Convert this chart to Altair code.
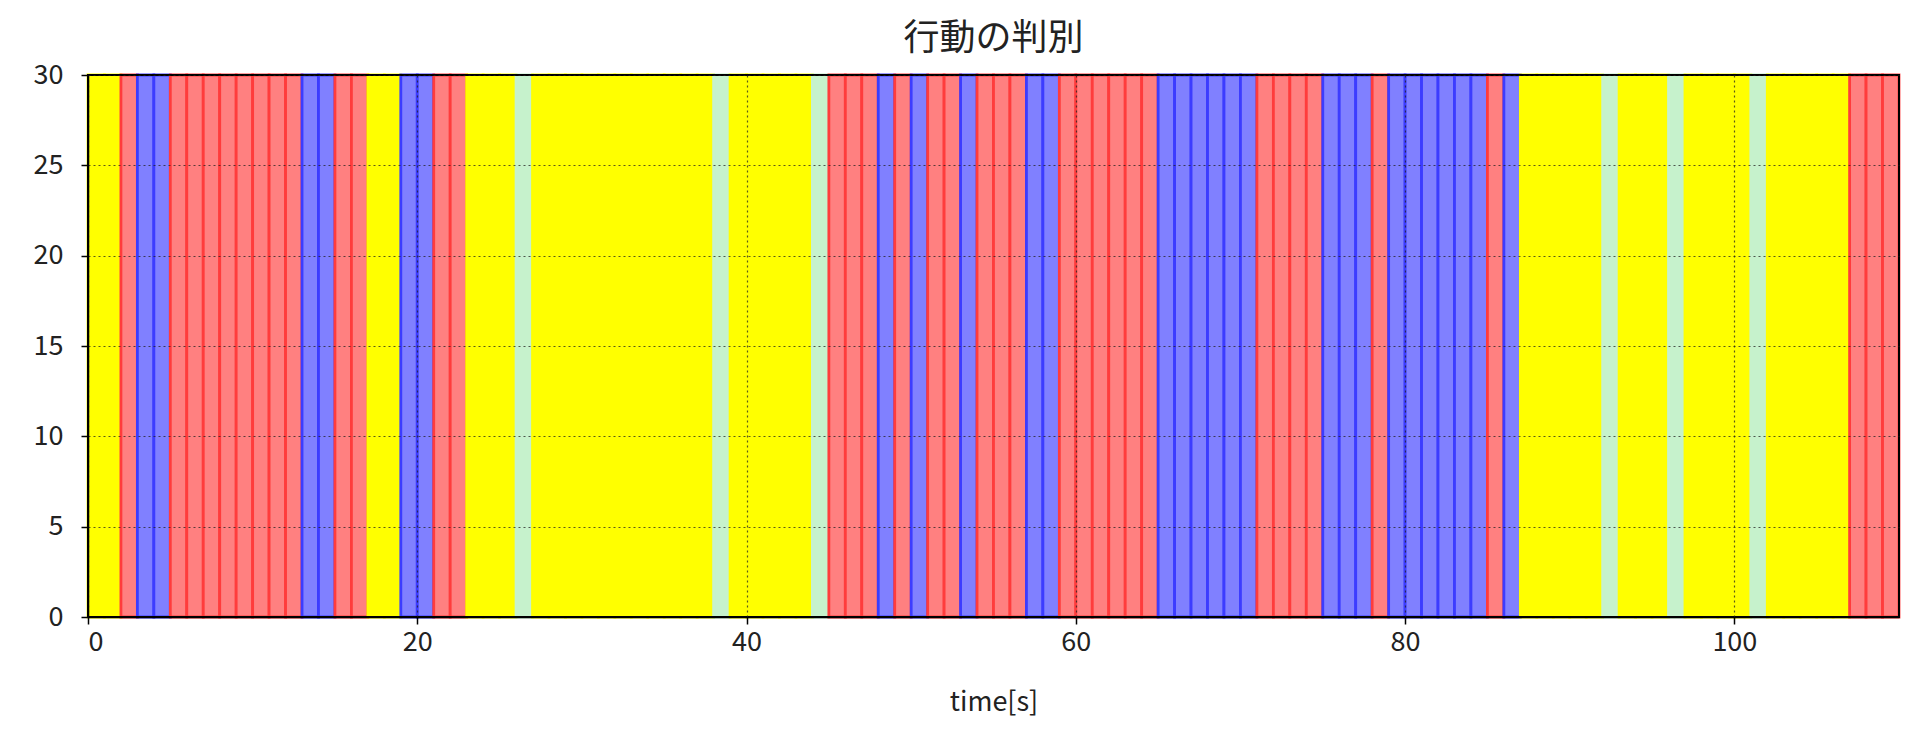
import altair as alt
import pandas as pd

# behaviour class for each 1-second interval from t=0 to t=110
# A = yellow, B = red, C = blue, D = light green
behavior = (
    ["A"] * 2 + ["B"] * 1 + ["C"] * 2 + ["B"] * 8 + ["C"] * 2 + ["B"] * 2
    + ["A"] * 2 + ["C"] * 2 + ["B"] * 2 + ["A"] * 3 + ["D"] * 1 + ["A"] * 11
    + ["D"] * 1 + ["A"] * 5 + ["D"] * 1 + ["B"] * 3 + ["C"] * 1 + ["B"] * 1
    + ["C"] * 1 + ["B"] * 2 + ["C"] * 1 + ["B"] * 3 + ["C"] * 2 + ["B"] * 6
    + ["C"] * 6 + ["B"] * 4 + ["C"] * 3 + ["B"] * 1 + ["C"] * 6 + ["B"] * 1
    + ["C"] * 1 + ["A"] * 5 + ["D"] * 1 + ["A"] * 3 + ["D"] * 1 + ["A"] * 4
    + ["D"] * 1 + ["A"] * 5 + ["B"] * 3
)
classes = ["A", "B", "C", "D"]
fill_colors = ["#ffff00", "#ff8080", "#8080ff", "#c6f2cc"]
edge_colors = ["#ffff00", "#ff3c3c", "#3c3cff", "#c6f2cc"]

x_ticks = [0, 20, 40, 60, 80, 100]
y_ticks = [0, 5, 10, 15, 20, 25, 30]
x_domain = [0, 110]
y_domain = [0, 30]

df = pd.DataFrame({
    "start": list(range(len(behavior))),
    "end": [i + 1 for i in range(len(behavior))],
    "label": behavior,
    "ymin": [y_domain[0]] * len(behavior),
    "ymax": [y_domain[1]] * len(behavior),
})

W, H = 1811, 542
FONT = "Noto Sans CJK JP"

axis_common = dict(
    grid=True, gridColor="#222222", gridDash=[2, 3], gridWidth=1.2, gridOpacity=0.75,
    domain=True, domainColor="black", domainWidth=1.5,
    ticks=True, tickColor="black", tickSize=7, tickWidth=1.5,
    labelFont=FONT, labelFontSize=27, labelColor="#222222",
    zindex=1,
)

bars = alt.Chart(df).mark_rect(strokeWidth=2.8).encode(
    x=alt.X("start:Q", scale=alt.Scale(domain=x_domain, nice=False, zero=False),
            axis=alt.Axis(values=x_ticks, title="time[s]", titleFont=FONT,
                          titleFontSize=27, titleFontWeight="normal",
                          titleColor="#222222", titlePadding=34, labelPadding=5,
                          **axis_common)),
    x2="end:Q",
    y=alt.Y("ymin:Q", scale=alt.Scale(domain=y_domain, nice=False),
            axis=alt.Axis(values=y_ticks, title=None, labelPadding=18, **axis_common)),
    y2="ymax:Q",
    fill=alt.Fill("label:N", scale=alt.Scale(domain=classes, range=fill_colors), legend=None),
    stroke=alt.Stroke("label:N", scale=alt.Scale(domain=classes, range=edge_colors), legend=None),
)

frame = alt.Chart(df).mark_rect(filled=False, stroke="black", strokeWidth=1.8).encode(
    x=alt.value(0), x2=alt.value(W), y=alt.value(0), y2=alt.value(H)
)

chart = alt.layer(bars, frame).properties(
    width=W, height=H,
    title=alt.TitleParams("行動の判別", font=FONT, fontSize=36, fontWeight="normal",
                          color="#222222", offset=3),
    padding={"left": 25, "top": 13, "right": 10, "bottom": 5},
).configure_view(stroke=None)

chart.save("out.html", embed_options={"renderer": "svg", "actions": False})
